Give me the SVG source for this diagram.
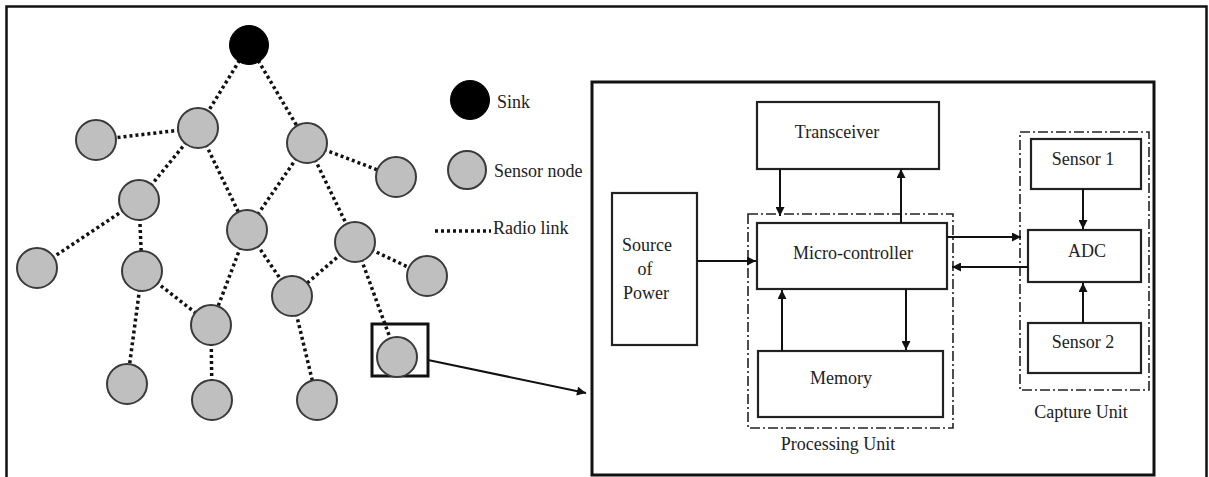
<svg xmlns="http://www.w3.org/2000/svg" width="1209" height="477" viewBox="0 0 1209 477">
<defs>
<marker id="ah" viewBox="0 0 10 10" refX="10" refY="5" markerWidth="10" markerHeight="9" markerUnits="userSpaceOnUse" orient="auto">
<path d="M0,0 L10,5 L0,10 z" fill="#111"/>
</marker>
</defs>
<style>
.t{font-family:"Liberation Serif","Times New Roman",serif;font-size:18px;fill:#222}
.m{text-anchor:middle}
.box{fill:#fff;stroke:#222;stroke-width:2.2}
.grp{fill:none;stroke:#222;stroke-width:1.6;stroke-dasharray:10 3 2 3}
.sn{fill:#bfbfbf;stroke:#3a3a3a;stroke-width:2}
.sink{fill:#000;stroke:#000;stroke-width:1}
.link{stroke:#111;stroke-width:3.5;stroke-dasharray:3 3;fill:none}
.arr{stroke:#111;stroke-width:2;fill:none;marker-end:url(#ah)}
</style>
<rect x="0" y="0" width="1209" height="477" fill="#fff"/>
<path d="M6.5,477 V6.5 H1206.5 V477" fill="none" stroke="#111" stroke-width="2.5"/>

<g id="links">
<line class="link" x1="249" y1="45" x2="198" y2="128"/>
<line class="link" x1="249" y1="45" x2="307" y2="143"/>
<line class="link" x1="198" y1="128" x2="96" y2="140"/>
<line class="link" x1="198" y1="128" x2="139" y2="200"/>
<line class="link" x1="198" y1="128" x2="247" y2="230"/>
<line class="link" x1="307" y1="143" x2="396" y2="177"/>
<line class="link" x1="307" y1="143" x2="247" y2="230"/>
<line class="link" x1="307" y1="143" x2="355" y2="242"/>
<line class="link" x1="139" y1="200" x2="37" y2="268"/>
<line class="link" x1="139" y1="200" x2="142" y2="271"/>
<line class="link" x1="247" y1="230" x2="211" y2="325"/>
<line class="link" x1="247" y1="230" x2="292" y2="296"/>
<line class="link" x1="355" y1="242" x2="292" y2="296"/>
<line class="link" x1="355" y1="242" x2="427" y2="276"/>
<line class="link" x1="355" y1="242" x2="397" y2="357"/>
<line class="link" x1="142" y1="271" x2="211" y2="325"/>
<line class="link" x1="142" y1="271" x2="127" y2="384"/>
<line class="link" x1="211" y1="325" x2="212" y2="400"/>
<line class="link" x1="292" y1="296" x2="317" y2="400"/>
</g>

<g id="sink"><circle class="sink" cx="249" cy="45" r="19.5"/></g>
<g id="n1"><circle class="sn" cx="198" cy="128" r="20"/></g>
<g id="n2"><circle class="sn" cx="96" cy="140" r="20"/></g>
<g id="n3"><circle class="sn" cx="307" cy="143" r="20"/></g>
<g id="n4"><circle class="sn" cx="396" cy="177" r="20"/></g>
<g id="n5"><circle class="sn" cx="139" cy="200" r="20"/></g>
<g id="n6"><circle class="sn" cx="247" cy="230" r="20"/></g>
<g id="n7"><circle class="sn" cx="355" cy="242" r="20"/></g>
<g id="n8"><circle class="sn" cx="37" cy="268" r="20"/></g>
<g id="n9"><circle class="sn" cx="142" cy="271" r="20"/></g>
<g id="n10"><circle class="sn" cx="427" cy="276" r="20"/></g>
<g id="n11"><circle class="sn" cx="292" cy="296" r="20"/></g>
<g id="n12"><circle class="sn" cx="211" cy="325" r="20"/></g>
<g id="n13">
<rect x="372" y="324" width="56" height="52" fill="none" stroke="#111" stroke-width="3"/>
<circle class="sn" cx="397" cy="357" r="20"/>
</g>
<g id="n14"><circle class="sn" cx="127" cy="384" r="20"/></g>
<g id="n15"><circle class="sn" cx="212" cy="400" r="20"/></g>
<g id="n16"><circle class="sn" cx="317" cy="400" r="20"/></g>

<g id="legend">
<circle class="sink" cx="470" cy="100" r="19.5"/>
<text class="t" x="497" y="108">Sink</text>
<circle class="sn" cx="467" cy="170" r="19"/>
<text class="t" x="494" y="177">Sensor node</text>
<line class="link" x1="435" y1="231" x2="491" y2="231" stroke-width="3"/>
<text class="t" x="493" y="234">Radio link</text>
</g>

<g id="zoom-arrow">
<line class="arr" x1="428" y1="360" x2="586" y2="393"/>
</g>

<g id="node-frame"><rect x="592" y="82" width="562" height="393" fill="none" stroke="#111" stroke-width="3"/></g>

<g id="processing-unit">
<rect class="grp" x="748" y="214" width="205" height="214"/>
<text class="t m" x="838" y="450">Processing Unit</text>
</g>
<g id="capture-unit">
<rect class="grp" x="1020" y="132" width="129" height="258"/>
<text class="t m" x="1081" y="418">Capture Unit</text>
</g>

<g id="transceiver"><rect class="box" x="757" y="102" width="182" height="67"/><text class="t m" x="837" y="138">Transceiver</text></g>
<g id="power"><rect class="box" x="612" y="193" width="85" height="152"/>
<text class="t m" x="647" y="251">Source</text><text class="t m" x="645" y="275">of</text><text class="t m" x="646" y="299">Power</text></g>
<g id="micro"><rect class="box" x="757" y="223" width="190" height="66"/><text class="t m" x="853" y="259">Micro-controller</text></g>
<g id="memory"><rect class="box" x="758" y="351" width="185" height="66"/><text class="t m" x="841" y="384">Memory</text></g>
<g id="sensor1"><rect class="box" x="1031" y="139" width="110" height="50"/><text class="t m" x="1083" y="165">Sensor 1</text></g>
<g id="adc"><rect class="box" x="1028" y="230" width="113" height="52"/><text class="t m" x="1087" y="257">ADC</text></g>
<g id="sensor2"><rect class="box" x="1028" y="323" width="113" height="50"/><text class="t m" x="1083" y="348">Sensor 2</text></g>

<g id="connectors">
<line class="arr" x1="780" y1="169" x2="780" y2="216"/>
<line class="arr" x1="901" y1="223" x2="901" y2="169"/>
<line class="arr" x1="697" y1="261" x2="756" y2="261"/>
<line class="arr" x1="906" y1="289" x2="906" y2="350"/>
<line class="arr" x1="782" y1="351" x2="782" y2="290"/>
<line class="arr" x1="947" y1="237" x2="1021" y2="237"/>
<line class="arr" x1="1028" y1="267" x2="952" y2="267"/>
<line class="arr" x1="1083" y1="189" x2="1083" y2="229"/>
<line class="arr" x1="1083" y1="323" x2="1083" y2="283"/>
</g>
</svg>
